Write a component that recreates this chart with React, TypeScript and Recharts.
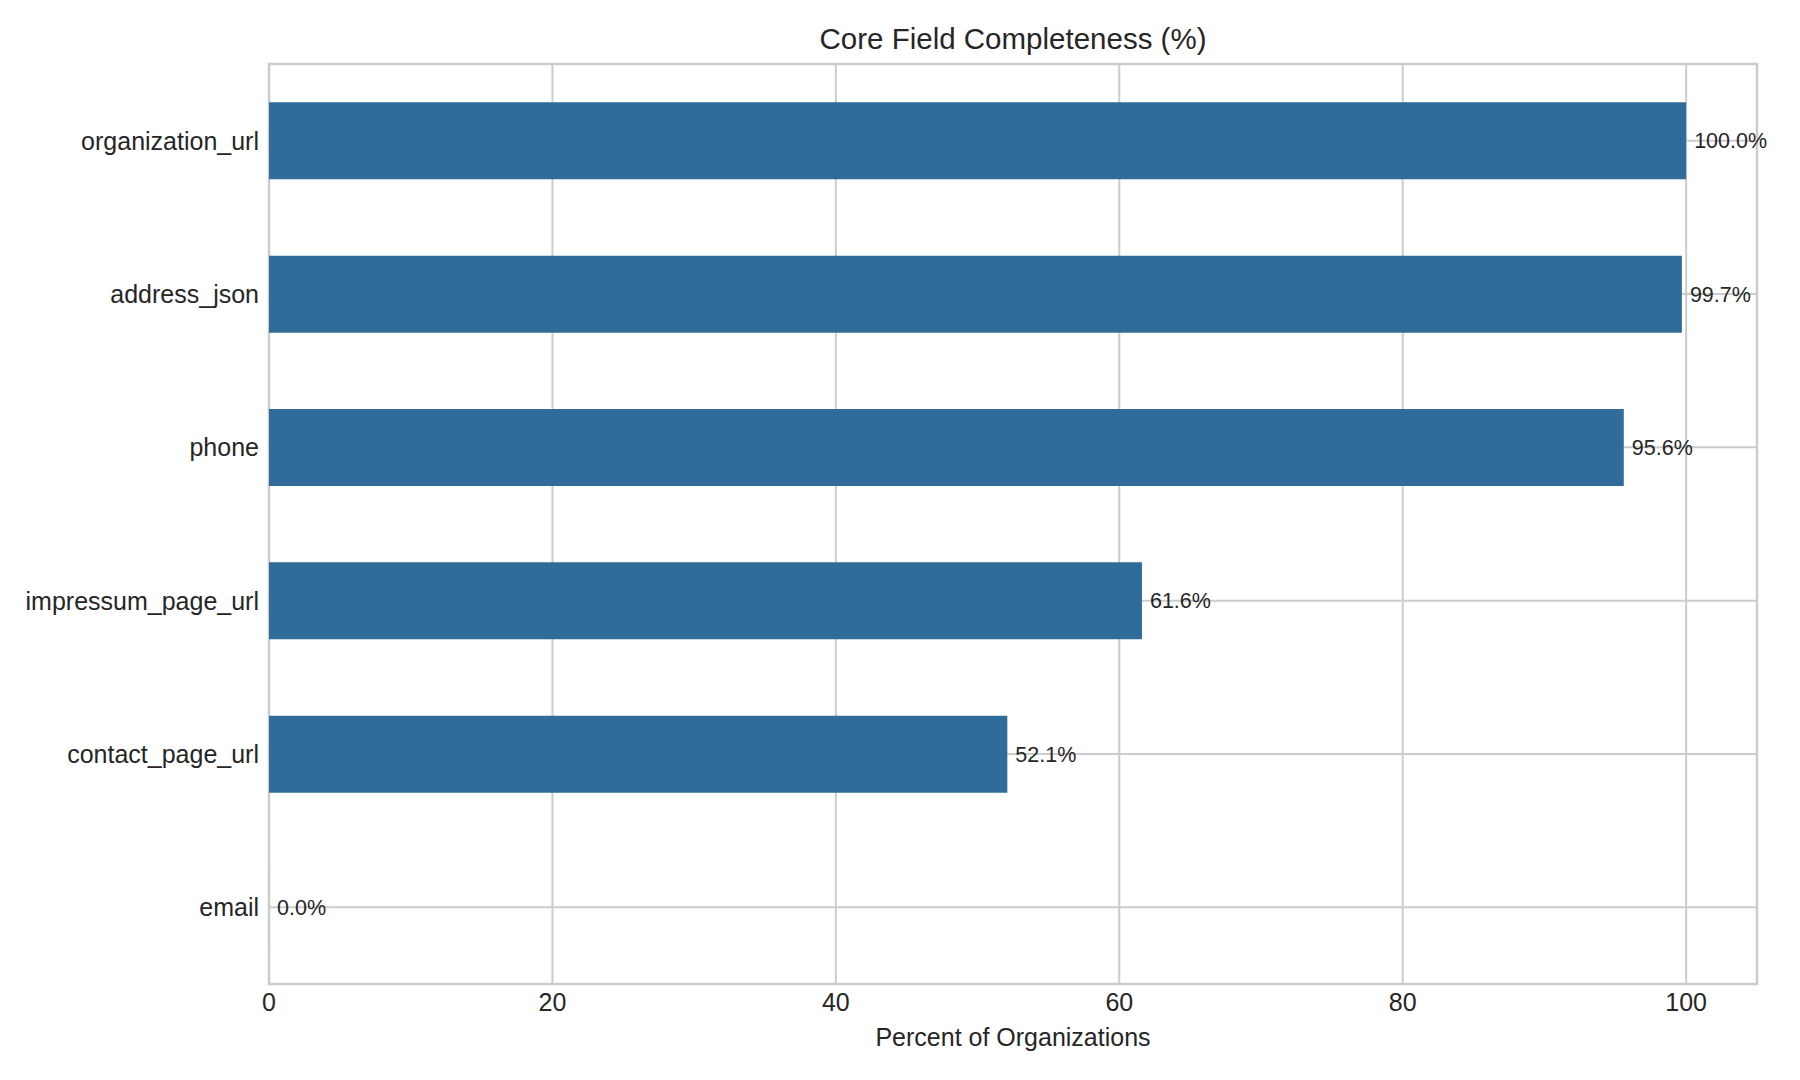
import React from 'react';
import { BarChart, Bar, XAxis, YAxis, CartesianGrid, LabelList, ReferenceArea } from 'recharts';

// Core fields, listed top to bottom
const categories = ['organization_url', 'address_json', 'phone', 'impressum_page_url', 'contact_page_url', 'email'];
// Share of organizations with the field filled in (%)
const completeness = [100.0, 99.7, 95.6, 61.6, 52.1, 0.0];
const xTicks = [0, 20, 40, 60, 80, 100];

const data = categories.map((name, i) => ({ name, value: completeness[i] }));

const FONT = '"Liberation Sans", Arial, Helvetica, sans-serif';
const TEXT = '#262626';
const GRID = '#cccccc';
const BAR = '#2f6c99';

const W = 1800;
const H = 1080;
const PLOT_LEFT = 269;
const PLOT_RIGHT = 1757;
const PLOT_TOP = 64;
const PLOT_BOTTOM = 984;

const YTick = (props: any) => {
  const { x, y, payload } = props;
  return (
    <text x={x} y={y} textAnchor="end" dominantBaseline="central" fontSize={25} fontFamily={FONT} fill={TEXT}>
      {payload.value}
    </text>
  );
};

const XTick = (props: any) => {
  const { x, y, payload } = props;
  return (
    <text x={x} y={y} textAnchor="middle" dominantBaseline="central" fontSize={25} fontFamily={FONT} fill={TEXT}>
      {payload.value}
    </text>
  );
};

export default function App() {
  return (
    <div style={{ position: 'absolute', left: 0, top: 0, width: W, height: H, background: '#ffffff' }}>
      <BarChart
        width={W}
        height={H}
        data={data}
        layout="vertical"
        barCategoryGap="25%"
        margin={{ top: PLOT_TOP, right: W - PLOT_RIGHT, bottom: 0, left: 0 }}
      >
        <CartesianGrid stroke={GRID} strokeWidth={2} />
        <XAxis
          type="number"
          domain={[0, 105]}
          ticks={xTicks}
          height={H - PLOT_BOTTOM}
          axisLine={false}
          tickLine={false}
          tickSize={0}
          tickMargin={18}
          tick={<XTick />}
        />
        <YAxis
          type="category"
          dataKey="name"
          width={PLOT_LEFT}
          axisLine={false}
          tickLine={false}
          tickSize={0}
          tickMargin={10}
          interval={0}
          tick={<YTick />}
        />
        <Bar dataKey="value" fill={BAR} minPointSize={0.01} isAnimationActive={false}>
          <LabelList
            dataKey="value"
            position="right"
            offset={8}
            formatter={(v: any) => `${Number(v).toFixed(1)}%`}
            style={{ fontSize: 21.5, fontFamily: FONT, fill: TEXT }}
          />
        </Bar>
        <ReferenceArea x1={0} x2={105} fill="none" stroke={GRID} strokeWidth={2.5} ifOverflow="visible" />
      </BarChart>
      <div
        style={{
          position: 'absolute',
          left: (PLOT_LEFT + PLOT_RIGHT) / 2,
          top: 39,
          transform: 'translate(-50%, -50%)',
          fontFamily: FONT,
          fontSize: 29.5,
          color: TEXT,
          whiteSpace: 'nowrap',
        }}
      >
        Core Field Completeness (%)
      </div>
      <div
        style={{
          position: 'absolute',
          left: (PLOT_LEFT + PLOT_RIGHT) / 2,
          top: 1037,
          transform: 'translate(-50%, -50%)',
          fontFamily: FONT,
          fontSize: 25,
          color: TEXT,
          whiteSpace: 'nowrap',
        }}
      >
        Percent of Organizations
      </div>
    </div>
  );
}
